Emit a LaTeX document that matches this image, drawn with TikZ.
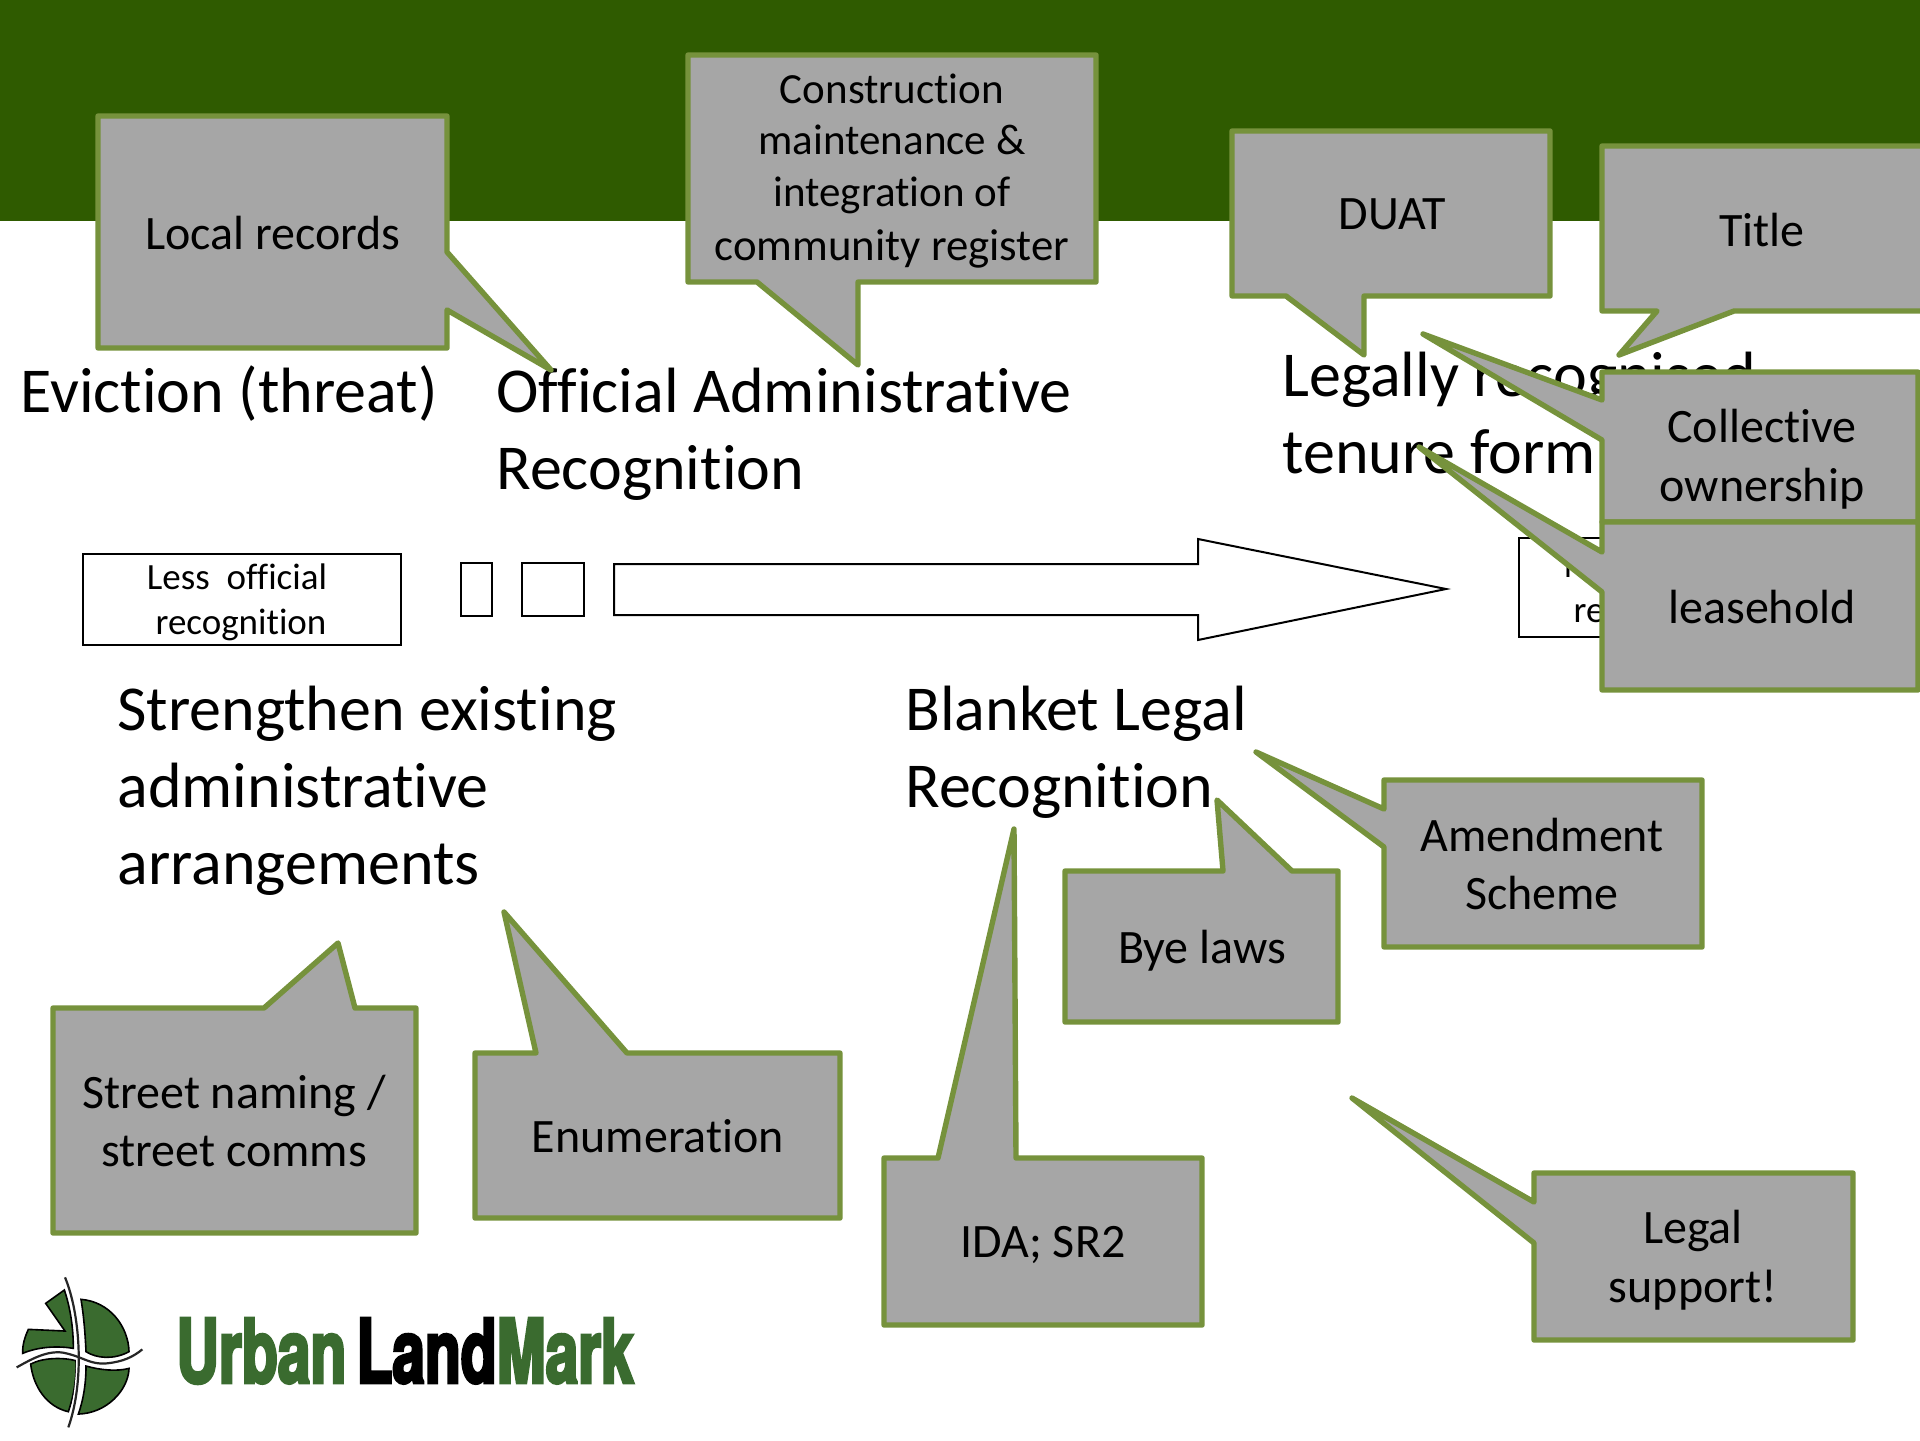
\documentclass[tikz,border=0pt]{standalone}
\usepackage{fontspec}
\setmainfont{Carlito}[Ligatures={NoCommon}]
\newfontfamily\logofont[FakeStretch=0.66,FakeBold=3]{TeX Gyre Heros}
\usepackage{tikz}
\usetikzlibrary{positioning}
\definecolor{bandgreen}{HTML}{2F5B00}
\definecolor{callgrey}{HTML}{A6A6A6}
\definecolor{callline}{HTML}{76923C}
\definecolor{logogreen}{HTML}{3A6B2F}

\begin{document}
\begin{tikzpicture}[x=0.5pt, y=-0.5pt,
    % Callout outline and its label
    callout/.style={draw=callline, fill=callgrey, line width=2.7pt, line join=round},
    calltext/.style={align=center, inner sep=0pt, font=\fontsize{24}{29.4}\selectfont},
    % Large headings
    heading/.style={anchor=west, align=left, inner sep=0pt, font=\fontsize{32}{38.5}\selectfont},
    % Thin boxes along the arrow
    scalebox/.style={draw, line width=1pt, fill=white},
    scaletext/.style={align=center, inner sep=0pt, font=\fontsize{18.5}{22.5}\selectfont},
    % Logo parts
    logopiece/.style={fill=logogreen, draw=black, line width=0.8pt},
    logoroad/.style={draw=white, line width=2.6pt},
    logoline/.style={draw=black!85, line width=1.1pt}]

\useasboundingbox (0,0) rectangle (1920,1440);

% Top band
\fill[bandgreen] (0,0) rectangle (1920,221);

% Logo
\begin{scope}[shift={(10,1270)}, x=0.1667pt, y=-0.1667pt]
    \draw[logopiece] (163,60) -- (107,100) -- (165,183) -- (55,178) .. controls (38,215) and (38,235) .. (38,250) .. controls (90,228) and (150,228) .. (190,235) .. controls (190,170) and (180,110) .. (163,60) -- cycle;
    \draw[logopiece] (213,88) .. controls (300,95) and (355,170) .. (357,245) .. controls (310,270) and (260,265) .. (228,245) .. controls (225,180) and (220,130) .. (213,88) -- cycle;
    \draw[logopiece] (62,282) .. controls (100,262) and (160,262) .. (198,272) .. controls (200,330) and (190,380) .. (175,425) .. controls (110,410) and (70,350) .. (62,282) -- cycle;
    \draw[logopiece] (228,288) .. controls (270,300) and (320,305) .. (357,295) .. controls (355,360) and (290,430) .. (205,432) .. controls (220,390) and (228,340) .. (228,288) -- cycle;
    \path[logoroad] (165,22) .. controls (210,130) and (225,330) .. (175,472);
    \path[logoroad] (20,292) .. controls (60,270) and (110,240) .. (160,248) .. controls (220,260) and (240,285) .. (290,280) .. controls (340,275) and (370,260) .. (397,238);
    \path[logoline] (165,22) .. controls (210,130) and (225,330) .. (175,472);
    \path[logoline] (20,292) .. controls (60,270) and (110,240) .. (160,248) .. controls (220,260) and (240,285) .. (290,280) .. controls (340,275) and (370,260) .. (397,238);
\end{scope}
\node[anchor=west, inner sep=0pt, font=\logofont\bfseries\fontsize{44.5}{50}\selectfont, text=logogreen] (logo) at (176,1351) {Urban\hspace{5pt}\textcolor{black}{Land}Mark};

% Headings
\node[heading] (eviction) at (20,394) {Eviction (threat)};
\node[heading] (official) at (496,434) {Official Administrative\\Recognition};
\node[heading] (legally) at (1282,413) {Legally recognised\\tenure form};
\node[heading] (strengthen) at (117,791) {Strengthen existing\\administrative\\arrangements};
\node[heading] (blanket) at (905,752) {Blanket Legal\\Recognition};

% Recognition scale
\node[scalebox, minimum width=159pt, minimum height=45.5pt] (lessbox) at (241.5,599) {};
\node[scaletext] (less) at (241,602) {Less~ official\hspace*{4pt}\\recognition};
\node[scalebox, minimum width=15.5pt, minimum height=26.5pt] (gapa) at (476.5,589.5) {};
\node[scalebox, minimum width=31pt, minimum height=26.5pt] (gapb) at (553,589.5) {};
\draw[scalebox] (614,564) -- (1198,564) -- (1198,539) -- (1446,589) -- (1198,640) -- (1198,615) -- (614,615) -- cycle;
\node[scalebox, minimum width=140pt, minimum height=49.5pt] (morebox) at (1659,587.5) {};
\node[scaletext] (more) at (1659,590) {More official\\recognition};

% Callouts above the headings
\draw[callout] (98,116) -- (447,116) -- (447,252) -- (551,370) -- (447,310) -- (447,348) -- (98,348) -- cycle;
\node[calltext] (records) at (273,233) {Local records};
\draw[callout] (688,55) -- (1096,55) -- (1096,282) -- (858,282) -- (858,365) -- (757,282) -- (688,282) -- cycle;
\node[calltext, font=\fontsize{21.5}{25.7}\selectfont] (register) at (892,171) {Construction\\maintenance \&\\integration of\\[1.5pt]{\fontsize{22.4}{25.7}\selectfont community register}};
\draw[callout] (1232,131) -- (1550,131) -- (1550,296) -- (1364,296) -- (1364,355) -- (1286,296) -- (1232,296) -- cycle;
\node[calltext] (duat) at (1392,214) {DUAT};
\draw[callout] (1602,146) -- (1930,146) -- (1930,311) -- (1734,311) -- (1619,355) -- (1657,311) -- (1602,311) -- cycle;
\node[calltext] (title) at (1762,230) {Title};
\draw[callout] (1602,372) -- (1918,372) -- (1918,522) -- (1602,522) -- (1602,440) -- (1423,334) -- (1602,400) -- cycle;
\node[calltext] (collective) at (1762,459) {Collective\\ownership};
\draw[callout] (1602,522) -- (1918,522) -- (1918,690) -- (1602,690) -- (1602,592) -- (1419,447) -- (1602,552) -- cycle;
\node[calltext] (leasehold) at (1762,607) {leasehold};

% Callouts below the headings
\draw[callout] (53,1008) -- (264,1008) -- (338,943) -- (355,1008) -- (416,1008) -- (416,1233) -- (53,1233) -- cycle;
\node[calltext] (street) at (234,1121) {Street naming /\\street comms};
\draw[callout] (475,1053) -- (536,1053) -- (504,912) -- (627,1053) -- (840,1053) -- (840,1218) -- (475,1218) -- cycle;
\node[calltext] (enumeration) at (658,1136) {Enumeration};
\draw[callout] (884,1158) -- (938,1158) -- (1014,829) -- (1016,1158) -- (1202,1158) -- (1202,1325) -- (884,1325) -- cycle;
\node[calltext] (ida) at (1043,1245) {IDA; SR2};
\draw[callout] (1065,871) -- (1223,871) -- (1217,800) -- (1292,871) -- (1338,871) -- (1338,1022) -- (1065,1022) -- cycle;
\node[calltext] (bye) at (1202,951) {Bye laws};
\draw[callout] (1384,780) -- (1702,780) -- (1702,947) -- (1384,947) -- (1384,847) -- (1256,752) -- (1384,809) -- cycle;
\node[calltext] (amendment) at (1542,864) {Amendment\\Scheme};
\draw[callout] (1534,1173) -- (1853,1173) -- (1853,1340) -- (1534,1340) -- (1534,1243) -- (1352,1098) -- (1534,1202) -- cycle;
\node[calltext] (support) at (1693,1260) {Legal\\support!};

\end{tikzpicture}
\end{document}
